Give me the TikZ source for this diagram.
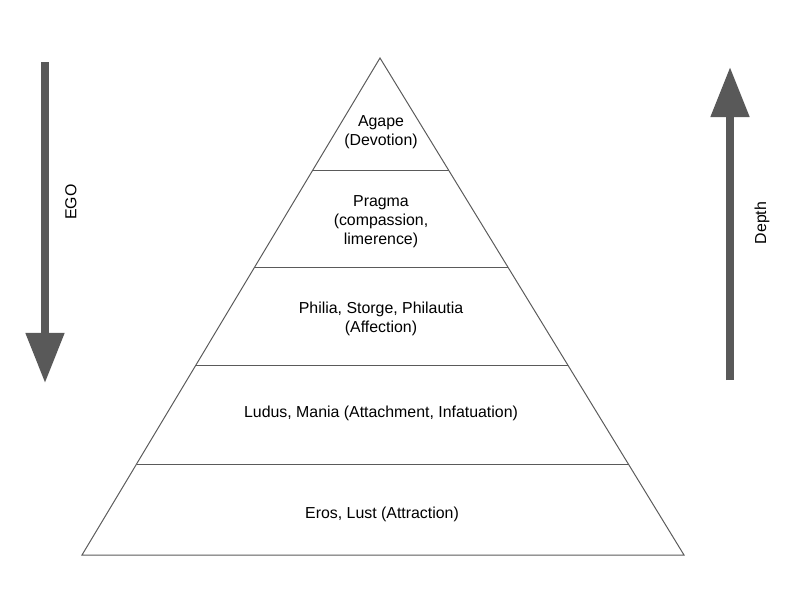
\documentclass[tikz,border=0pt]{standalone}
\usepackage{fontspec}
\setmainfont{Liberation Sans}
\usepackage{xcolor}
\usetikzlibrary{arrows.meta, positioning, calc}
\definecolor{arrowgray}{HTML}{595959}
\definecolor{edgegray}{HTML}{5A5A5A}

\begin{document}
\begin{tikzpicture}[x=0.025cm, y=-0.025cm,
    edge/.style={edgegray, line width=0.7pt, line join=miter},
    level/.style={align=center, font=\fontsize{11.3}{13.6}\selectfont},
    bigarrow/.style={arrowgray, line width=0.2cm, -{Triangle[length=1.25cm, width=0.925cm]}}]
    \useasboundingbox (0,0) rectangle (800,600);

    % Draw pyramid
    \coordinate (apex) at (380,58);
    \coordinate (baseL) at (82,555);
    \coordinate (baseR) at (684,555);
    \draw[edge] (apex) -- (baseR) -- (baseL) -- cycle;

    % Layer lines
    \foreach \y in {170,267,365,464} {
        \draw[edge] ($(apex)!{(\y-58)/497}!(baseL)$) -- ($(apex)!{(\y-58)/497}!(baseR)$);
    }

    % Labels
    \node[level] (agape) at (381,132) {Agape\\(Devotion)};
    \node[level] (pragma) at (381,222) {Pragma\\(compassion,\\limerence)};
    \node[level] (philia) at (381,319) {Philia, Storge, Philautia\\(Affection)};
    \node[level] (ludus) at (381,413) {Ludus, Mania (Attachment, Infatuation)};
    \node[level] (eros) at (382,514) {Eros, Lust (Attraction)};

    % Side arrows
    \coordinate (egoStart) at (45,62);
    \coordinate (egoEnd) at (45,383);
    \draw[bigarrow] (egoStart) -- (egoEnd);
    \node[level, rotate=90] (ego) at (71,202) {EGO};

    \coordinate (depthStart) at (730,380);
    \coordinate (depthEnd) at (730,67);
    \draw[bigarrow] (depthStart) -- (depthEnd);
    \node[level, rotate=90] (depth) at (762,223) {Depth};
\end{tikzpicture}
\end{document}
